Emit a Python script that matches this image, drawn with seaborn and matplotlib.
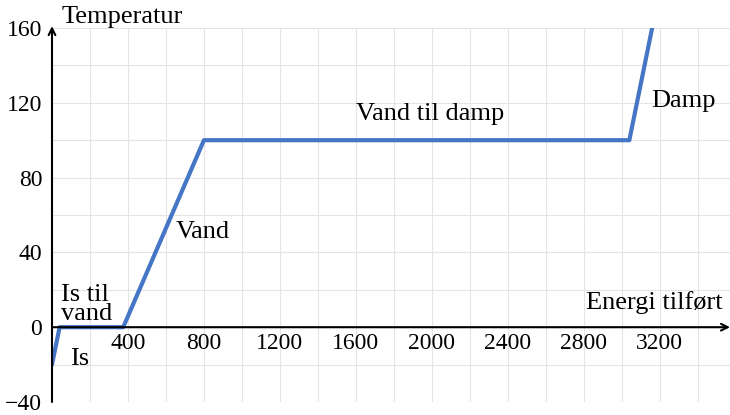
import matplotlib
matplotlib.use("Agg")
import matplotlib.pyplot as plt
import seaborn as sns
import pandas as pd
from matplotlib.ticker import MultipleLocator

# heating curve for water
energy = [0, 40, 375, 800, 3040, 3160]
temperature = [-20, 0, 0, 100, 100, 160]
x_ticks = [400, 800, 1200, 1600, 2000, 2400, 2800, 3200]
y_ticks = [-40, 0, 40, 80, 120, 160]

df = pd.DataFrame({'Energi': energy, 'Temperatur': temperature})

sns.set_theme(style="white")
plt.rcParams['font.family'] = ['Liberation Serif', 'DejaVu Serif']
plt.rcParams['text.color'] = 'black'

fig = plt.figure(figsize=(7.3, 4.15), dpi=100)
ax = fig.add_axes([52/730, 13/415, 678/730, 374/415])

sns.lineplot(data=df, x='Energi', y='Temperatur', sort=False, color='#4575C5', linewidth=3, ax=ax)

ax.set_xlim(0, 3570)
ax.set_ylim(-40, 160)
ax.xaxis.set_minor_locator(MultipleLocator(200))
ax.yaxis.set_minor_locator(MultipleLocator(20))
ax.set_xticks(x_ticks)
ax.set_yticks(y_ticks)
ax.set_yticklabels([str(v).replace('-', '\u2212') for v in y_ticks])
ax.grid(which='both', color='#e4e4e4', linewidth=0.8)
ax.tick_params(which='both', length=0, labelsize=17, colors='black')
ax.tick_params(axis='y', pad=7)
ax.tick_params(axis='x', pad=4)
ax.set_xlabel('')
ax.set_ylabel('')

for s in ['top', 'right', 'left']:
    ax.spines[s].set_visible(False)
ax.spines['bottom'].set_position(('data', 0))
ax.spines['bottom'].set_visible(False)

# axes with arrows
ax.annotate('', xy=(0, 1.005), xytext=(0, 0), xycoords='axes fraction',
            arrowprops=dict(arrowstyle='->', lw=1.5, color='black', shrinkA=0, shrinkB=0))
ax.annotate('', xy=(1.0, 0), xytext=(0, 0), xycoords=('axes fraction', 'data'),
            arrowprops=dict(arrowstyle='->', lw=1.5, color='black', shrinkA=0, shrinkB=0))

fs = 19
ax.text(50, 166, 'Temperatur', fontsize=fs, ha='left', va='center')
ax.text(3530, 13, 'Energi tilført', fontsize=fs, ha='right', va='center')
ax.text(50, 1, 'Is til\nvand', fontsize=fs, ha='left', va='bottom', linespacing=0.85)
ax.text(95, -17, 'Is', fontsize=fs, ha='left', va='center')
ax.text(650, 51, 'Vand', fontsize=fs, ha='left', va='center')
ax.text(1990, 114, 'Vand til damp', fontsize=fs, ha='center', va='center')
ax.text(3155, 121, 'Damp', fontsize=fs, ha='left', va='center')

plt.savefig('out.png', dpi=100)
